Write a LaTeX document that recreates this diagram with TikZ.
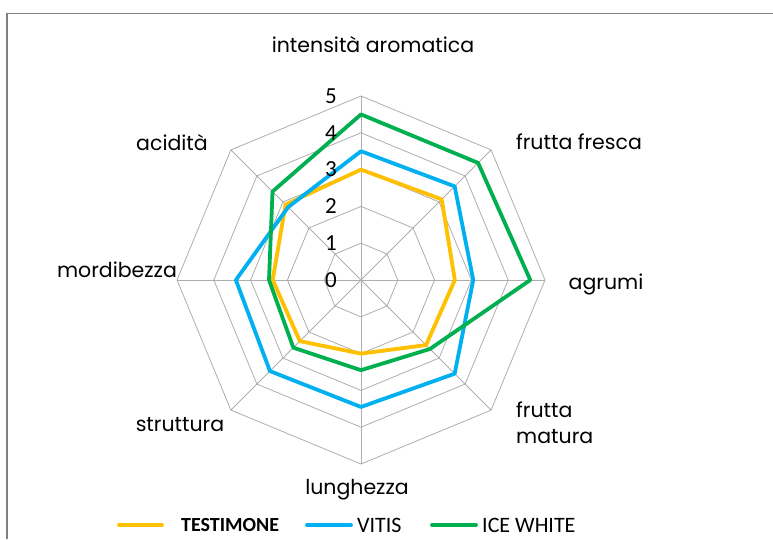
\documentclass[tikz,border=0pt]{standalone}
\usepackage{fontspec}
\setmainfont{Poppins}
\newfontfamily\numfont{Carlito}
\usetikzlibrary{positioning}

\begin{document}
\begin{tikzpicture}[x=1pt,y=1pt]
	\tikzset{grid/.style = {draw=black!32, line width=0.8pt}}
	\tikzset{frame/.style = {draw=black!50, line width=1.6pt}}
	\tikzset{axislabel/.style = {inner sep=0pt, font=\fontsize{20.5}{26}\selectfont}}
	\tikzset{ticklabel/.style = {inner sep=0pt, anchor=east, font=\numfont\fontsize{23}{24}\selectfont}}
	\tikzset{legendtext/.style = {inner sep=0pt, anchor=west, font=\numfont\fontsize{22}{24}\selectfont}}
	\tikzset{testimone/.style = {draw={rgb,255:red,255;green,192;blue,0}, line width=3.8pt, line join=round}}
	\tikzset{vitis/.style = {draw={rgb,255:red,0;green,176;blue,240}, line width=3.8pt, line join=round}}
	\tikzset{icewhite/.style = {draw={rgb,255:red,0;green,176;blue,80}, line width=3.8pt, line join=round}}
	
	\useasboundingbox (0,0) rectangle (773,-539);
	
	% chart frame
	\coordinate (fb) at (7,-539);
	\coordinate (fl) at (7,-13.5);
	\coordinate (fr) at (773,-13.5);
	\draw[frame] (fb) -- (fl) -- (fr);
	
	\begin{scope}[shift={(361pt,-280pt)}, x=36.8pt, y=36.8pt]
		% grid
		\foreach \r in {1,...,5}
			\draw[grid] (90:\r) -- (45:\r) -- (0:\r) -- (-45:\r) -- (-90:\r) -- (-135:\r) -- (180:\r) -- (135:\r) -- cycle;
		\foreach \a in {90,45,...,-225}
			\draw[grid] (0,0) -- (\a:5);
		
		% series
		\draw[testimone] (90:3) -- (45:3.1) -- (0:2.55) -- (-45:2.5) -- (-90:2) -- (-135:2.35) -- (180:2.4) -- (135:2.9) -- cycle;
		\draw[vitis] (90:3.5) -- (45:3.6) -- (0:3.05) -- (-45:3.6) -- (-90:3.45) -- (-135:3.5) -- (180:3.4) -- (135:2.8) -- cycle;
		\draw[icewhite] (90:4.5) -- (45:4.5) -- (0:4.6) -- (-45:2.65) -- (-90:2.45) -- (-135:2.6) -- (180:2.5) -- (135:3.4) -- cycle;
	\end{scope}
	
	% scale
	\node[ticklabel] (t0) at (337,-280) {0};
	\node[ticklabel] (t1) at (337,-243.2) {1};
	\node[ticklabel] (t2) at (337,-206.4) {2};
	\node[ticklabel] (t3) at (337,-169.6) {3};
	\node[ticklabel] (t4) at (337,-132.8) {4};
	\node[ticklabel] (t5) at (337,-96) {5};
	
	% axis labels
	\node[axislabel] (intens) at (373,-45) {intensità aromatica};
	\node[axislabel] (fresca) at (579,-142) {frutta fresca};
	\node[axislabel] (agrumi) at (606,-284) {agrumi};
	\node[axislabel, anchor=west, align=left] (matura) at (516,-423) {frutta\\matura};
	\node[axislabel] (lungh) at (357,-490) {lunghezza};
	\node[axislabel] (strutt) at (180,-425) {struttura};
	\node[axislabel] (morbid) at (117,-270) {mordibezza};
	\node[axislabel] (acid) at (172,-143) {acidità};
	
	% legend
	\coordinate (la1) at (119,-525);
	\coordinate (la2) at (162,-525);
	\coordinate (lb1) at (307,-525);
	\coordinate (lb2) at (351,-525);
	\coordinate (lc1) at (432,-525);
	\coordinate (lc2) at (476,-525);
	\draw[testimone, line cap=round] (la1) -- (la2);
	\draw[vitis, line cap=round] (lb1) -- (lb2);
	\draw[icewhite, line cap=round] (lc1) -- (lc2);
	\node[legendtext, font=\numfont\bfseries\fontsize{20}{22}\selectfont] (legt) at (181,-525) {TESTIMONE};
	\node[legendtext] (legv) at (357,-525) {VITIS};
	\node[legendtext] (legi) at (482,-525) {ICE WHITE};
\end{tikzpicture}
\end{document}
